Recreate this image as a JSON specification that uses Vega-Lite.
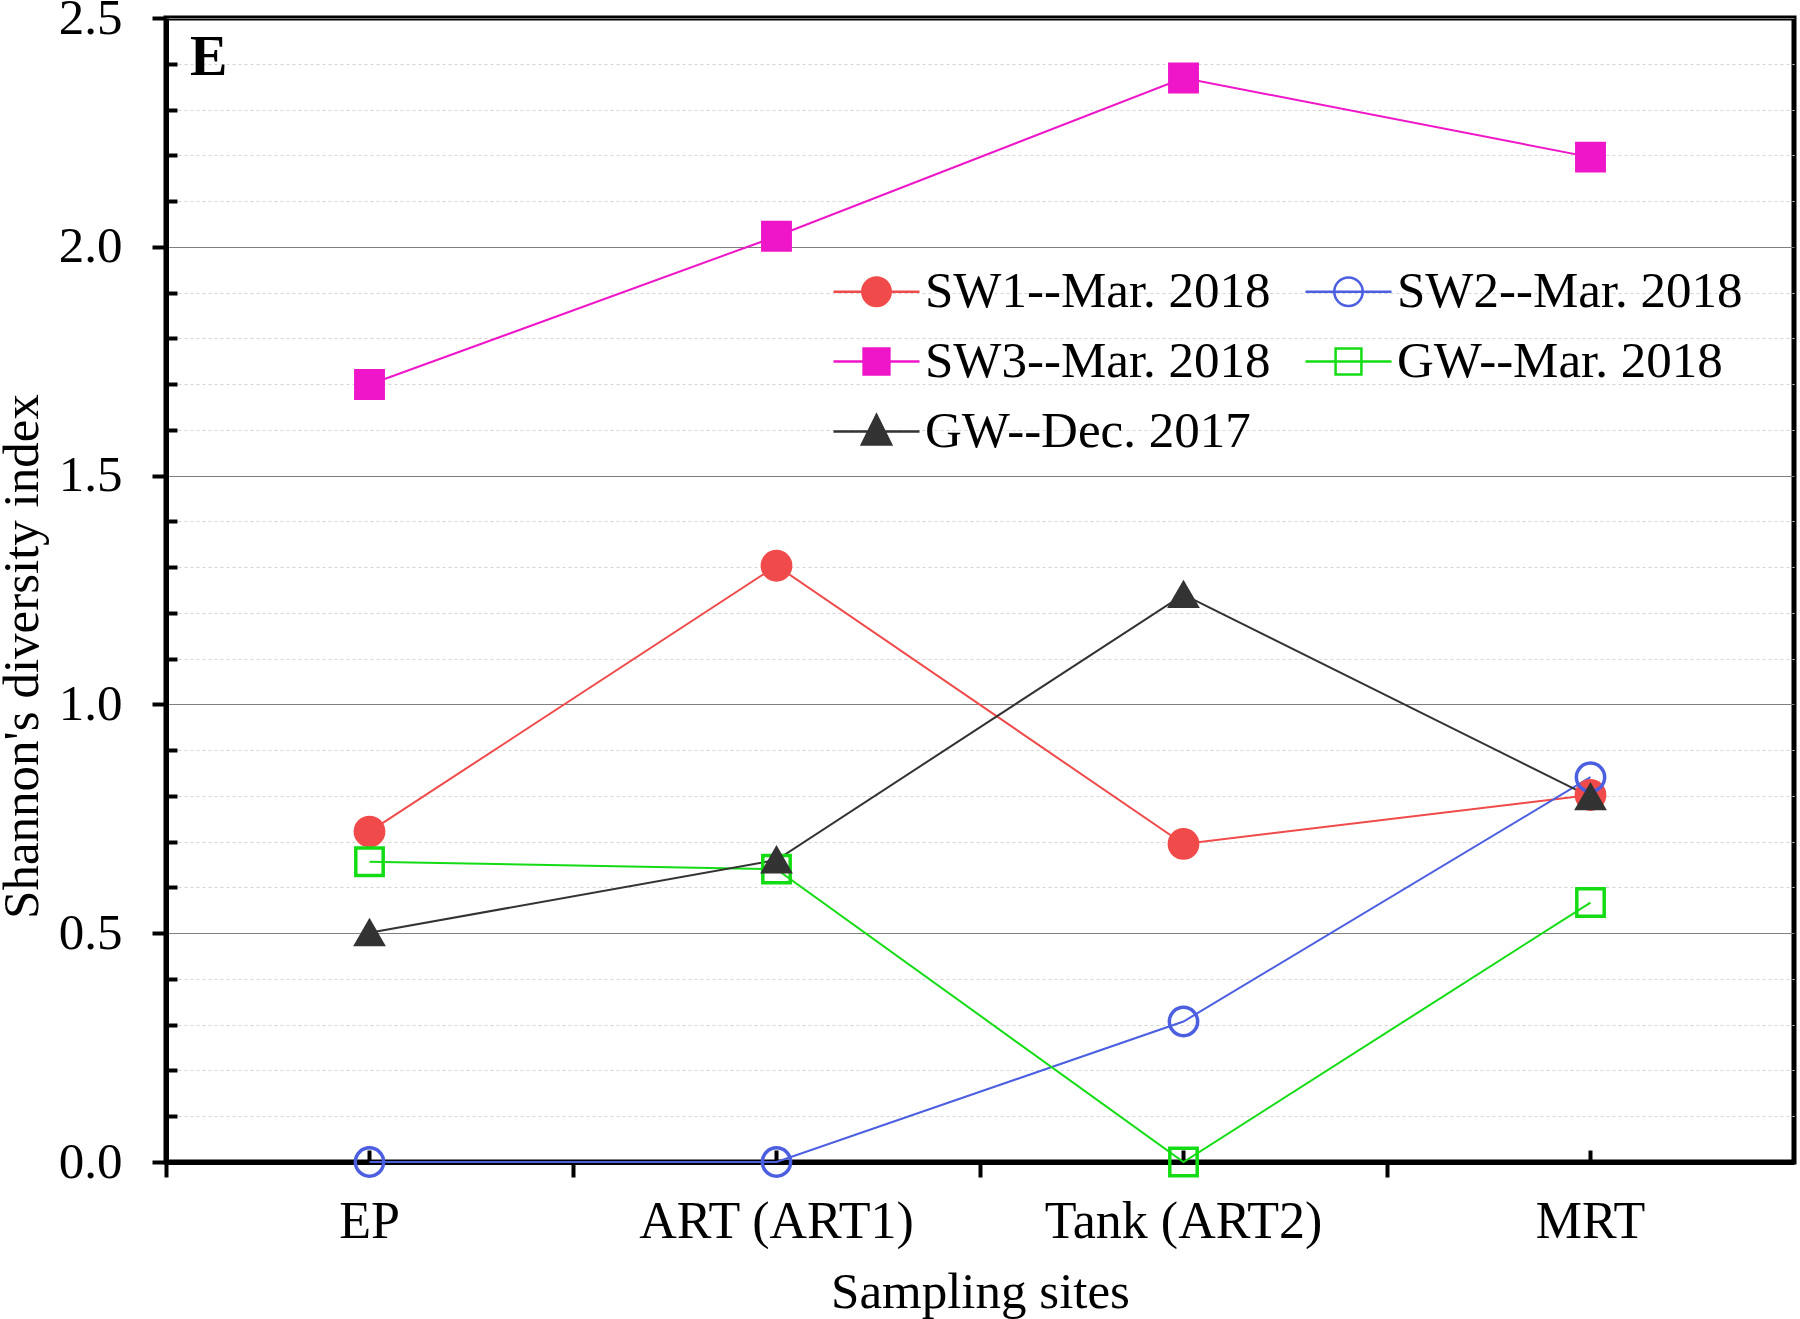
{
  "$schema": "https://vega.github.io/schema/vega-lite/v6.json",
  "width": 1628,
  "height": 1144,
  "autosize": {"type": "none"},
  "padding": {"left": 166, "top": 18, "right": 6, "bottom": 157},
  "background": "white",
  "config": {"view": {"stroke": "black", "strokeWidth": 5}, "font": "Liberation Serif"},
  "title": {"text": "E", "anchor": "start", "orient": "top", "frame": "group", "baseline": "top", "offset": 0, "dx": 24, "dy": 95, "fontSize": 56, "fontWeight": "bold", "font": "Liberation Serif", "color": "black"},
  "data": {"values": [
    {"series": "SW1--Mar. 2018", "site": "EP", "value": 0.722},
    {"series": "SW1--Mar. 2018", "site": "ART (ART1)", "value": 1.303},
    {"series": "SW1--Mar. 2018", "site": "Tank (ART2)", "value": 0.695},
    {"series": "SW1--Mar. 2018", "site": "MRT", "value": 0.802},
    {"series": "SW2--Mar. 2018", "site": "EP", "value": 0},
    {"series": "SW2--Mar. 2018", "site": "ART (ART1)", "value": 0},
    {"series": "SW2--Mar. 2018", "site": "Tank (ART2)", "value": 0.307},
    {"series": "SW2--Mar. 2018", "site": "MRT", "value": 0.841},
    {"series": "SW3--Mar. 2018", "site": "EP", "value": 1.699},
    {"series": "SW3--Mar. 2018", "site": "ART (ART1)", "value": 2.023},
    {"series": "SW3--Mar. 2018", "site": "Tank (ART2)", "value": 2.369},
    {"series": "SW3--Mar. 2018", "site": "MRT", "value": 2.196},
    {"series": "GW--Mar. 2018", "site": "EP", "value": 0.656},
    {"series": "GW--Mar. 2018", "site": "ART (ART1)", "value": 0.640},
    {"series": "GW--Mar. 2018", "site": "Tank (ART2)", "value": 0},
    {"series": "GW--Mar. 2018", "site": "MRT", "value": 0.567},
    {"series": "GW--Dec. 2017", "site": "EP", "value": 0.501},
    {"series": "GW--Dec. 2017", "site": "ART (ART1)", "value": 0.660},
    {"series": "GW--Dec. 2017", "site": "Tank (ART2)", "value": 1.240},
    {"series": "GW--Dec. 2017", "site": "MRT", "value": 0.798}
  ]},
  "layer": [
    {
      "mark": {"type": "line", "strokeWidth": 2},
      "encoding": {
        "x": {"field": "site", "type": "nominal", "sort": ["EP", "ART (ART1)", "Tank (ART2)", "MRT"],
          "scale": {"type": "band", "paddingInner": 0, "paddingOuter": 0},
          "axis": {"orient": "bottom", "bandPosition": 0.5, "grid": false, "ticks": true, "tickSize": -12, "tickWidth": 4, "tickColor": "black",
            "domain": true, "domainColor": "black", "domainWidth": 5, "labelAngle": 0, "labelFontSize": 52, "labelFont": "Liberation Serif", "labelColor": "black", "labelPadding": 46, "labelLimit": 1000,
            "title": "Sampling sites", "titleFontSize": 51, "titleFont": "Liberation Serif", "titleFontWeight": "normal", "titleColor": "black", "titlePadding": 20}},
        "y": {"field": "value", "type": "quantitative", "scale": {"domain": [0, 2.5], "nice": false, "zero": true},
          "axis": {"orient": "left", "values": [0, 0.5, 1, 1.5, 2, 2.5], "format": ".1f", "grid": true, "gridColor": "#7f7f7f", "gridWidth": 1,
            "tickSize": 14, "tickWidth": 4, "tickColor": "black", "domain": true, "domainColor": "black", "domainWidth": 5,
            "labelFontSize": 51, "labelFont": "Liberation Serif", "labelColor": "black", "labelPadding": 30,
            "title": "Shannon's diversity index", "titleFontSize": 51, "titleFont": "Liberation Serif", "titleFontWeight": "normal", "titleColor": "black", "titlePadding": 10, "titleY": 638}},
        "color": {"field": "series", "type": "nominal",
          "scale": {"domain": ["SW1--Mar. 2018", "SW2--Mar. 2018", "SW3--Mar. 2018", "GW--Mar. 2018", "GW--Dec. 2017"],
            "range": ["#f04a4a", "#4b5fe0", "#ee16c8", "#14dc14", "#333333"]},
          "legend": {"orient": "none", "legendX": 666, "legendY": 229, "columns": 2, "direction": "horizontal", "title": null,
            "labelFontSize": 51, "labelFont": "Liberation Serif", "labelColor": "black", "labelLimit": 1000, "labelOffset": 4,
            "symbolSize": 7400, "symbolStrokeWidth": 2.5, "rowPadding": 0, "columnPadding": 29}},
        "order": {"value": null}
      }
    },
    {
      "transform": [{"filter": {"field": "series", "oneOf": ["SW1--Mar. 2018", "SW2--Mar. 2018"]}}],
      "mark": {"type": "point", "shape": "circle", "strokeWidth": 3.5, "opacity": 1, "size": 800},
      "encoding": {
        "x": {"field": "site", "type": "nominal", "sort": ["EP", "ART (ART1)", "Tank (ART2)", "MRT"],
          "axis": {"orient": "bottom", "bandPosition": 0, "grid": false, "ticks": true, "tickSize": 15, "tickWidth": 4, "tickColor": "black",
            "domain": false, "labels": false, "title": null}},
        "y": {"field": "value", "type": "quantitative",
          "axis": {"orient": "left", "values": [0.1, 0.2, 0.3, 0.4, 0.6, 0.7, 0.8, 0.9, 1.1, 1.2, 1.3, 1.4, 1.6, 1.7, 1.8, 1.9, 2.1, 2.2, 2.3, 2.4],
            "grid": true, "gridColor": "#d4d4d4", "gridDash": [3, 3], "gridWidth": 1,
            "tickSize": -11, "tickWidth": 4, "tickColor": "black", "domain": false, "labels": false, "title": null}},
        "stroke": {"field": "series", "type": "nominal",
          "scale": {"domain": ["SW1--Mar. 2018", "SW2--Mar. 2018", "SW3--Mar. 2018", "GW--Mar. 2018", "GW--Dec. 2017"],
            "range": ["#f04a4a", "#4b5fe0", "#ee16c8", "#14dc14", "#333333"]},
          "legend": null},
        "fill": {"field": "series", "type": "nominal",
          "scale": {"domain": ["SW1--Mar. 2018", "SW2--Mar. 2018", "SW3--Mar. 2018", "GW--Mar. 2018", "GW--Dec. 2017"],
            "range": ["#f04a4a", "transparent", "#ee16c8", "transparent", "#333333"]},
          "legend": null}
      }
    },
    {
      "transform": [{"filter": {"field": "series", "oneOf": ["SW3--Mar. 2018", "GW--Mar. 2018"]}}],
      "mark": {"type": "point", "shape": "square", "strokeWidth": 3.5, "opacity": 1, "size": 750},
      "encoding": {
        "x": {"field": "site", "type": "nominal", "sort": ["EP", "ART (ART1)", "Tank (ART2)", "MRT"], "axis": null},
        "y": {"field": "value", "type": "quantitative", "axis": null},
        "stroke": {"field": "series", "type": "nominal", "legend": null},
        "fill": {"field": "series", "type": "nominal", "legend": null}
      }
    },
    {
      "transform": [{"filter": {"field": "series", "equal": "GW--Dec. 2017"}}],
      "mark": {"type": "point", "shape": "triangle-up", "strokeWidth": 3, "opacity": 1, "size": 760},
      "encoding": {
        "x": {"field": "site", "type": "nominal", "sort": ["EP", "ART (ART1)", "Tank (ART2)", "MRT"], "axis": null},
        "y": {"field": "value", "type": "quantitative", "axis": null},
        "stroke": {"field": "series", "type": "nominal", "legend": null},
        "fill": {"field": "series", "type": "nominal", "legend": null}
      }
    },
    {
      "transform": [{"filter": "false"}],
      "mark": {"type": "point", "opacity": 1},
      "encoding": {
        "shape": {"field": "series", "type": "nominal",
          "scale": {"domain": ["SW1--Mar. 2018", "SW2--Mar. 2018", "SW3--Mar. 2018", "GW--Mar. 2018", "GW--Dec. 2017"],
            "range": [
              "M-1,0H1M0.33,0A0.33,0.33,0,1,1,-0.33,0A0.33,0.33,0,1,1,0.33,0Z",
              "M-1,0H1M0.33,0A0.33,0.33,0,1,1,-0.33,0A0.33,0.33,0,1,1,0.33,0Z",
              "M-1,0H1M-0.3,-0.3H0.3V0.3H-0.3Z",
              "M-1,0H1M-0.3,-0.3H0.3V0.3H-0.3Z",
              "M-1,0H1M0,-0.38L0.34,0.3H-0.34Z"]},
          "legend": null}
      }
    }
  ],
  "resolve": {"axis": {"x": "independent", "y": "independent"}}
}
